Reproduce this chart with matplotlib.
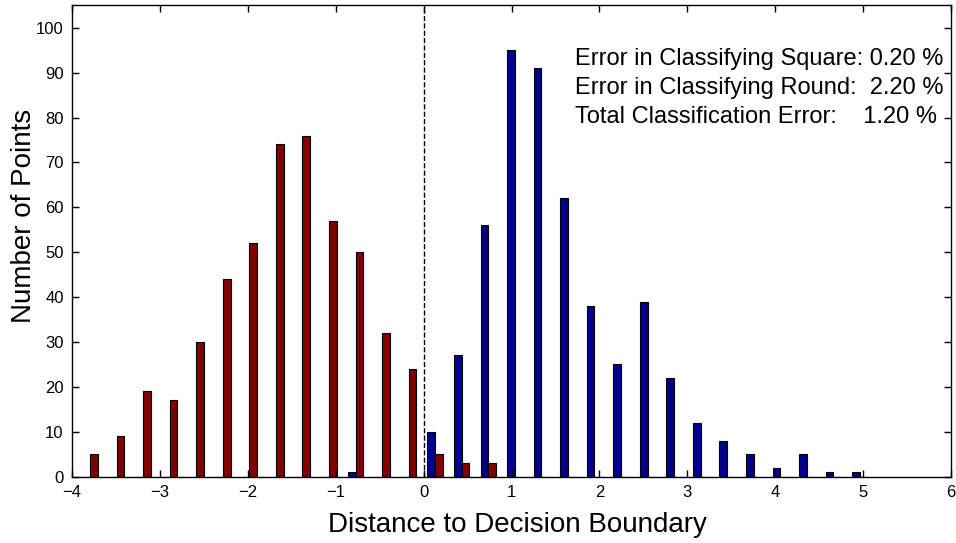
import numpy as np
import matplotlib
matplotlib.use("Agg")
import matplotlib.pyplot as plt

plt.rcParams['font.family'] = ['Liberation Sans', 'DejaVu Sans']

# bin centers (30 equal-width bins) and counts
bin_start = -3.794
bin_width = 0.302
n_bins = 30
round_counts = [5, 9, 19, 17, 30, 44, 52, 74, 76, 57, 50, 32, 24, 5, 3, 3,
                0, 0, 0, 0, 0, 0, 0, 0, 0, 0, 0, 0, 0, 0]
square_counts = [0, 0, 0, 0, 0, 0, 0, 0, 0, 0, 1, 0, 0, 10, 27, 56,
                 95, 91, 62, 38, 25, 39, 22, 12, 8, 5, 2, 5, 1, 1]
x_ticks = [-4, -3, -2, -1, 0, 1, 2, 3, 4, 5, 6]
y_ticks = [0, 10, 20, 30, 40, 50, 60, 70, 80, 90, 100]
err_lines = ["Error in Classifying Square: 0.20 %",
             "Error in Classifying Round:  2.20 %",
             "Total Classification Error:    1.20 %"]

centers = bin_start + bin_width * np.arange(n_bins)
bw = 0.088

fig = plt.figure(figsize=(9.56, 5.43), dpi=100)
ax = fig.add_axes([0.0753, 0.1221, 0.9195, 0.8681])

ax.bar(centers - bw / 2, square_counts, width=bw, color='#00008B',
       edgecolor='black', linewidth=0.8)
ax.bar(centers + bw / 2, round_counts, width=bw, color='#800000',
       edgecolor='black', linewidth=0.8)
ax.axvline(0, color='black', linestyle='--', linewidth=1)

ax.set_xlim(-4, 6)
ax.set_ylim(0, 105)
ax.set_xticks(x_ticks)
ax.set_yticks(y_ticks)
ax.tick_params(direction='in', top=True, right=True, length=5, width=1,
               labelsize=12, pad=6)
for s in ax.spines.values():
    s.set_linewidth(1)

ax.set_xlabel("Distance to Decision Boundary", fontsize=20, labelpad=9)
ax.xaxis.set_label_coords(0.507, -0.074)
ax.set_ylabel("Number of Points", fontsize=20)
ax.yaxis.set_label_coords(-0.040, 0.553)

ax.text(0.572, 0.909, "\n".join(err_lines), transform=ax.transAxes,
        fontsize=17, va='top', ha='left', linespacing=1.42)

fig.savefig("out.png", dpi=100)
